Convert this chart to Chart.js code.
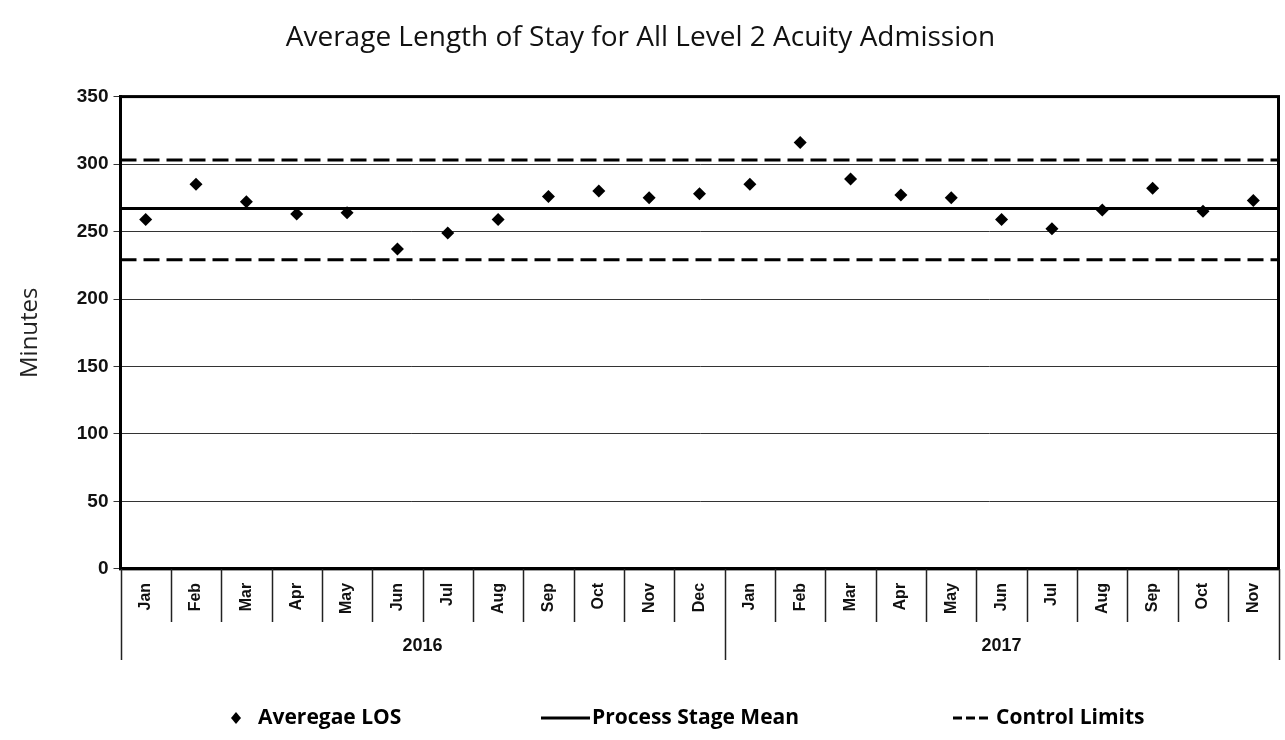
<!DOCTYPE html>
<html>
<head>
<meta charset="utf-8">
<script src="https://cdn.jsdelivr.net/npm/chart.js@4/dist/chart.umd.min.js"></script>
<style>
  html, body { margin: 0; padding: 0; background: #fff; }
</style>
</head>
<body>
<canvas id="chart" width="1285" height="740"></canvas>
<script>
// months on the category axis, grouped by year below
const months = ['Jan', 'Feb', 'Mar', 'Apr', 'May', 'Jun', 'Jul', 'Aug', 'Sep', 'Oct', 'Nov', 'Dec',
                'Jan', 'Feb', 'Mar', 'Apr', 'May', 'Jun', 'Jul', 'Aug', 'Sep', 'Oct', 'Nov'];
const years = ['2016', '2017'];
const monthsPerYear = [12, 11];

// average length of stay (minutes)
const averageLos = [259, 285, 272, 263, 264, 237, 249, 259, 276, 280, 275, 278,
                    285, 316, 289, 277, 275, 259, 252, 266, 282, 265, 273];

// horizontal reference lines, start and end of the plot
const processMean = [267, 267];
const upperLimit = [303, 303];
const lowerLimit = [229, 229];

const legendLabels = ['Averegae LOS', 'Process Stage Mean', 'Control Limits'];

const toLine = vals => vals.map((v, i) => ({ x: i, y: v }));

// box round the plot, month separators, year row and legend
const axisExtras = {
    id: 'axisExtras',
    afterDraw(chart) {
        const { ctx, chartArea, scales: { x } } = chart;
        const { left, right, top, bottom } = chartArea;
        ctx.save();

        ctx.strokeStyle = '#000';
        ctx.lineWidth = 3;
        ctx.strokeRect(left, top, right - left, bottom - top);

        // separators between month labels
        ctx.lineWidth = 1.5;
        ctx.strokeStyle = '#222';
        const sepBottom = bottom + 53;
        const yearBottom = bottom + 91;
        ctx.beginPath();
        for (let i = 0; i <= months.length; i++) {
            const px = Math.round(x.getPixelForValue(i - 0.5)) + 0.5;
            ctx.moveTo(px, bottom);
            ctx.lineTo(px, sepBottom);
        }
        ctx.stroke();

        // year groups
        ctx.font = 'bold 18px "Liberation Sans", Arial, sans-serif';
        ctx.fillStyle = '#111';
        ctx.textAlign = 'center';
        ctx.textBaseline = 'middle';
        let start = 0;
        ctx.beginPath();
        const edge0 = Math.round(x.getPixelForValue(-0.5)) + 0.5;
        ctx.moveTo(edge0, sepBottom);
        ctx.lineTo(edge0, yearBottom);
        years.forEach((yr, k) => {
            const end = start + monthsPerYear[k];
            const a = x.getPixelForValue(start - 0.5);
            const b = x.getPixelForValue(end - 0.5);
            const pb = Math.round(b) + 0.5;
            ctx.moveTo(pb, sepBottom);
            ctx.lineTo(pb, yearBottom);
            ctx.fillText(yr, (a + b) / 2, bottom + 77);
            start = end;
        });
        ctx.stroke();

        // legend
        const ly = 718;
        ctx.font = 'bold 21px "Open Sans", sans-serif';
        ctx.textAlign = 'left';
        ctx.fillStyle = '#000';

        ctx.beginPath();
        ctx.moveTo(236, ly - 6);
        ctx.lineTo(241, ly);
        ctx.lineTo(236, ly + 6);
        ctx.lineTo(231, ly);
        ctx.closePath();
        ctx.fill();
        ctx.fillText(legendLabels[0], 258, ly);

        ctx.lineWidth = 3;
        ctx.strokeStyle = '#000';
        ctx.beginPath();
        ctx.moveTo(541, ly);
        ctx.lineTo(590, ly);
        ctx.stroke();
        ctx.fillText(legendLabels[1], 592, ly);

        ctx.setLineDash([9, 4]);
        ctx.beginPath();
        ctx.moveTo(953, ly);
        ctx.lineTo(991, ly);
        ctx.stroke();
        ctx.setLineDash([]);
        ctx.fillText(legendLabels[2], 996, ly);

        ctx.restore();
    }
};

const refLine = (label, values, dash) => ({
    type: 'line',
    label,
    data: toLine(values),
    xAxisID: 'xl',
    borderColor: '#000',
    borderWidth: 3,
    borderDash: dash,
    pointRadius: 0,
    fill: false,
    order: 2
});

new Chart(document.getElementById('chart').getContext('2d'), {
    type: 'line',
    data: {
        labels: months,
        datasets: [
            {
                label: legendLabels[0],
                data: averageLos,
                showLine: false,
                pointStyle: 'rectRot',
                pointRadius: 6.5,
                pointBackgroundColor: '#000',
                pointBorderColor: '#000',
                pointBorderWidth: 0,
                order: 1
            },
            refLine(legendLabels[1], processMean, []),
            refLine(legendLabels[2], upperLimit, [16, 7]),
            refLine(legendLabels[2], lowerLimit, [16, 7])
        ]
    },
    options: {
        responsive: false,
        animation: false,
        layout: { padding: { left: 0, right: 4, top: 0, bottom: 120 } },
        plugins: {
            legend: { display: false },
            tooltip: { enabled: false },
            title: {
                display: true,
                text: 'Average Length of Stay for All Level 2 Acuity Admission',
                color: '#111',
                font: { family: '"Open Sans", sans-serif', size: 28, weight: 'normal' },
                padding: { top: 21, bottom: 42 }
            }
        },
        scales: {
            x: {
                type: 'category',
                offset: true,
                grid: { display: false },
                border: { display: true, color: '#000', width: 3 },
                ticks: {
                    minRotation: 90,
                    maxRotation: 90,
                    autoSkip: false,
                    padding: 6,
                    color: '#111',
                    font: { family: '"Liberation Sans", Arial, sans-serif', size: 16, weight: 'bold' }
                }
            },
            xl: {
                type: 'linear',
                display: false,
                min: 0,
                max: 1
            },
            y: {
                min: 0,
                max: 350,
                ticks: {
                    stepSize: 50,
                    padding: 5,
                    color: '#111',
                    font: { family: '"Liberation Sans", Arial, sans-serif', size: 19, weight: 'bold' }
                },
                grid: { color: '#333', lineWidth: 1, tickLength: 7 },
                border: { display: true, color: '#000', width: 3 },
                title: {
                    display: true,
                    text: 'Minutes',
                    color: '#222',
                    font: { family: '"Open Sans", sans-serif', size: 24, weight: 'normal' },
                    padding: { top: 16, bottom: 27 }
                }
            }
        }
    },
    plugins: [axisExtras]
});
</script>
</body>
</html>
